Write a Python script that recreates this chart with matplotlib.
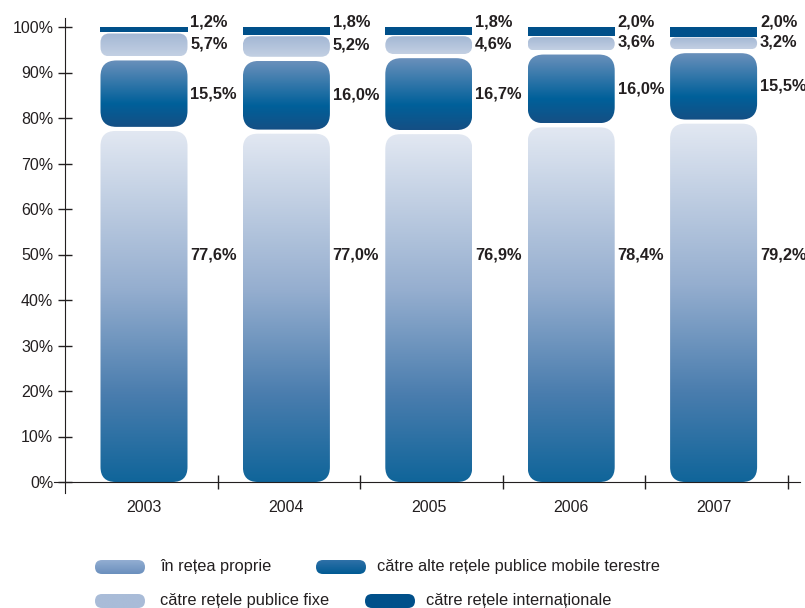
import numpy as np
import matplotlib
matplotlib.use("Agg")
import matplotlib.pyplot as plt
from matplotlib.patches import FancyBboxPatch
from matplotlib.colors import LinearSegmentedColormap

plt.rcParams["font.family"] = ["Liberation Sans", "DejaVu Sans"]

years = ["2003", "2004", "2005", "2006", "2007"]
proprie = [77.6, 77.0, 76.9, 78.4, 79.2]
mobile = [15.5, 16.0, 16.7, 16.0, 15.5]
fixe = [5.7, 5.2, 4.6, 3.6, 3.2]
internat = [1.2, 1.8, 1.8, 2.0, 2.0]

labels = ["în rețea proprie", "către alte rețele publice mobile terestre",
          "către rețele publice fixe", "către rețele internaționale"]

txt = "#231f20"

cm_prop = LinearSegmentedColormap.from_list(
    "prop", [(0, "#10659a"), (0.25, "#4a7dae"), (0.55, "#95aecf"), (1, "#e2e8f2")])
cm_mob = LinearSegmentedColormap.from_list(
    "mob", [(0, "#154f84"), (0.35, "#00609a"), (1, "#6a90bb")])
cm_fix = LinearSegmentedColormap.from_list("fix", ["#c3d0e3", "#a3b7d4"])
cm_int = LinearSegmentedColormap.from_list("int", ["#00508a", "#00508a"])
cm_leg1 = LinearSegmentedColormap.from_list("l1", ["#6a8fbd", "#93aed2"])
cm_leg2 = LinearSegmentedColormap.from_list("l2", ["#005a93", "#2f71a8"])
cm_leg3 = LinearSegmentedColormap.from_list("l3", ["#a9bcd8", "#a9bcd8"])

grad = np.linspace(0, 1, 256).reshape(-1, 1)

fig = plt.figure(figsize=(8.05, 6.08), dpi=100)
ax = fig.add_axes([54 / 805, 1 - 493 / 608, 746 / 805, 483 / 608])

px_x = 142.4   # pixels per category
px_y = 4.55    # pixels per percent
asp = px_x / px_y
bw = 87 / px_x


def grad_box(ax, x0, y0, w, h, cmap, r_px):
    r = r_px / px_x
    r = min(r, w / 2, h / asp / 2)
    if r <= 0:
        style = "square,pad=0"
    else:
        style = f"round,pad=0,rounding_size={r}"
    p = FancyBboxPatch((x0, y0), w, h, boxstyle=style, mutation_aspect=asp,
                       facecolor="none", edgecolor="none")
    ax.add_patch(p)
    im = ax.imshow(grad, extent=[x0, x0 + w, y0, y0 + h], origin="lower",
                   aspect="auto", cmap=cmap, vmin=0, vmax=1, interpolation="bilinear")
    im.set_clip_path(p)


g = 0.45
for i in range(len(years)):
    x0 = i - bw / 2
    # proprie
    grad_box(ax, x0, 0, bw, proprie[i] - g, cm_prop, 15)
    b = proprie[i]
    grad_box(ax, x0, b + g, bw, mobile[i] - 2 * g, cm_mob, 16)
    m_c = b + mobile[i] / 2
    b += mobile[i]
    grad_box(ax, x0, b + g, bw, fixe[i] - 1.5 * g, cm_fix, 9)
    f_c = b + fixe[i] / 2
    b += fixe[i]
    grad_box(ax, x0, b, bw, internat[i], cm_int, 0)
    top = b + internat[i]

    lx = i + bw / 2 + 0.02
    kw = dict(fontsize=11.8, fontweight="bold", color=txt, va="center", ha="left")
    ax.text(lx, 50, f"{proprie[i]:.1f}%".replace(".", ","), **kw)
    ax.text(lx, m_c, f"{mobile[i]:.1f}%".replace(".", ","), **kw)
    ax.text(lx, f_c + 0.4, f"{fixe[i]:.1f}%".replace(".", ","), **kw)
    ax.text(lx, top + 1.1, f"{internat[i]:.1f}%".replace(".", ","), **kw)

ax.set_xlim(-90 / px_x, 656 / px_x)
ax.set_ylim(-11 / px_y, 472 / px_y)

for s in ["top", "right"]:
    ax.spines[s].set_visible(False)
ax.spines["left"].set_position(("data", -78.5 / px_x))
ax.spines["left"].set_bounds(-11 / px_y, 102)
ax.spines["bottom"].set_position(("data", 0))
ax.spines["left"].set_color(txt)
ax.spines["bottom"].set_color(txt)

ax.set_yticks(np.arange(0, 101, 10))
ax.set_yticklabels([f"{v}%" for v in range(0, 101, 10)])
ax.tick_params(axis="y", direction="inout", length=9.5, width=1, color=txt,
               labelsize=11.5, labelcolor=txt, pad=4)
ax.set_xticks(np.arange(len(years)) + 0.52)
ax.set_xticklabels([])
ax.tick_params(axis="x", direction="inout", length=10, width=1, color=txt)
ax.set_xticks(np.arange(len(years)), minor=True)
ax.set_xticklabels(years, minor=True)
ax.tick_params(axis="x", which="minor", length=0, pad=13, labelsize=11.5, labelcolor=txt)

# legend
lg = fig.add_axes([0, 0, 1, 1])
lg.set_xlim(0, 805)
lg.set_ylim(608, 0)
lg.axis("off")


def pill(x0, yc, cmap):
    w, h = 50, 14
    p = FancyBboxPatch((x0, yc - h / 2), w, h, boxstyle="round,pad=0,rounding_size=7",
                       facecolor="none", edgecolor="none")
    lg.add_patch(p)
    im = lg.imshow(grad, extent=[x0, x0 + w, yc + h / 2, yc - h / 2], origin="lower",
                   aspect="auto", cmap=cmap, vmin=0, vmax=1)
    im.set_clip_path(p)


lfs = 11.8
pill(95, 567, cm_leg1)
lg.text(160, 566, labels[0], fontsize=lfs, color=txt, va="center")
pill(316, 567, cm_leg2)
lg.text(377, 566, labels[1], fontsize=lfs, color=txt, va="center")
pill(95, 601, cm_leg3)
lg.text(160, 600, labels[2], fontsize=lfs, color=txt, va="center")
pill(365, 601, cm_int)
lg.text(426, 600, labels[3], fontsize=lfs, color=txt, va="center")
lg.set_xlim(0, 805)
lg.set_ylim(608, 0)

fig.savefig("out.png", dpi=100)
